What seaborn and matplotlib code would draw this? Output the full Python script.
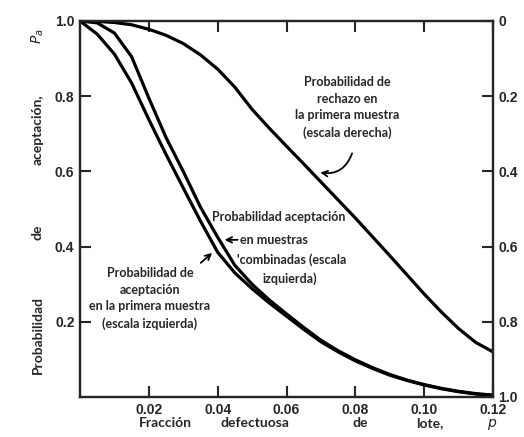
import numpy as np
import pandas as pd
import seaborn as sns
import matplotlib.pyplot as plt

# fraccion defectuosa del lote
p_lote = [0, 0.005, 0.01, 0.015, 0.02, 0.025, 0.03, 0.035, 0.04, 0.045, 0.05, 0.055,
          0.06, 0.065, 0.07, 0.075, 0.08, 0.085, 0.09, 0.095, 0.10, 0.105, 0.11, 0.115, 0.12]

# aceptacion en la primera muestra (escala izquierda)
acep_primera = [1.0, 0.965, 0.912, 0.835, 0.738, 0.645, 0.556, 0.468, 0.385, 0.33, 0.288, 0.25,
                0.215, 0.18, 0.147, 0.12, 0.096, 0.076, 0.058, 0.044, 0.032, 0.022, 0.014, 0.008, 0.004]

# aceptacion en muestras combinadas (escala izquierda)
acep_combinada = [1.0, 0.995, 0.968, 0.905, 0.795, 0.69, 0.60, 0.505, 0.425, 0.35, 0.30, 0.258,
                  0.221, 0.185, 0.151, 0.123, 0.099, 0.078, 0.06, 0.045, 0.033, 0.023, 0.015, 0.009, 0.005]

# rechazo en la primera muestra (escala derecha)
rech_primera = [0.0, 0.001, 0.004, 0.01, 0.022, 0.038, 0.06, 0.09, 0.128, 0.176, 0.235, 0.285,
                0.333, 0.38, 0.428, 0.476, 0.524, 0.574, 0.624, 0.675, 0.726, 0.774, 0.818, 0.855, 0.88]

xticks = [0.02, 0.04, 0.06, 0.08, 0.10, 0.12]
yticks_izq = [0.2, 0.4, 0.6, 0.8, 1.0]
yticks_der = [0, 0.2, 0.4, 0.6, 0.8, 1.0]

df = pd.DataFrame({'p': p_lote, 'primera': acep_primera,
                   'combinada': acep_combinada, 'rechazo': rech_primera})

sns.set_style("ticks")
plt.rcParams['font.family'] = ['Lato', 'DejaVu Sans']

W, H = 524, 437
fig = plt.figure(figsize=(W / 100, H / 100), dpi=100)
ax = fig.add_axes([80 / W, 1 - 397 / H, 413 / W, 376 / H])

lw = 2.3
sns.lineplot(data=df, x='p', y='primera', ax=ax, color='black', lw=lw)
sns.lineplot(data=df, x='p', y='combinada', ax=ax, color='black', lw=lw)
ax.set_xlim(0, 0.12)
ax.set_ylim(0, 1.0)
ax.set_xlabel('')
ax.set_ylabel('')

ax2 = ax.twinx()
sns.lineplot(data=df, x='p', y='rechazo', ax=ax2, color='black', lw=lw)
ax2.set_ylim(1.0, 0)
ax2.set_ylabel('')

tick_font = dict(family='Liberation Sans', size=10, weight='bold')
ax.set_xticks(xticks)
ax.set_xticklabels(['%.2f' % t for t in xticks], **tick_font)
ax.set_yticks(yticks_izq)
ax.set_yticklabels(['%.1f' % t for t in yticks_izq], **tick_font)
ax2.set_yticks(yticks_der)
ax2.set_yticklabels(['0'] + ['%.1f' % t for t in yticks_der[1:]], **tick_font)

ax.tick_params(axis='both', direction='in', length=8, width=1.5, top=True, pad=4)
ax2.tick_params(axis='y', direction='in', length=8, width=1.5, pad=4)
for a in (ax, ax2):
    for s in a.spines.values():
        s.set_linewidth(1.6)

# etiquetas de ejes repartidas como en el libro
lab = dict(family='Lato', size=10, weight='bold', ha='center', va='center')
for txt, x in [('Fracción', 165), ('defectuosa', 255), ('de', 360), ('lote,', 430)]:
    fig.text(x / W, 1 - 423 / H, txt, **lab)
fig.text(492 / W, 1 - 424 / H, '$p$', **lab)
for txt, y in [('Probabilidad', 335), ('de', 232), ('aceptación,', 130)]:
    fig.text(38 / W, 1 - y / H, txt, rotation=90, **lab)
fig.text(38 / W, 1 - 36 / H, '$P_a$', rotation=90, **lab)

ann = dict(family='Lato', size=9, weight='bold')
ax.text(0.0776, 0.77, 'Probabilidad de\nrechazo en\nla primera muestra\n(escala derecha)',
        ha='center', va='center', linespacing=1.45, **ann)
ax.annotate('', xy=(0.0690, 0.598), xytext=(0.0793, 0.655),
            arrowprops=dict(arrowstyle='->', color='black', lw=1.3,
                            connectionstyle='arc3,rad=-0.45'))

ax.text(0.0384, 0.479, 'Probabilidad aceptación', ha='left', va='center', **ann)
ax.text(0.0466, 0.418, 'en muestras', ha='left', va='center', **ann)
ax.text(0.0456, 0.364, "'combinadas (escala", ha='left', va='center', **ann)
ax.text(0.0529, 0.314, 'izquierda)', ha='left', va='center', **ann)
ax.annotate('', xy=(0.0412, 0.418), xytext=(0.0466, 0.418),
            arrowprops=dict(arrowstyle='->', color='black', lw=1.3))

ax.text(0.0203, 0.262, 'Probabilidad de\naceptación\nen la primera muestra\n(escala izquierda)',
        ha='center', va='center', linespacing=1.45, **ann)
ax.annotate('', xy=(0.0390, 0.388), xytext=(0.0345, 0.352),
            arrowprops=dict(arrowstyle='->', color='black', lw=1.3))

fig.savefig('out.png', dpi=100, facecolor='white')
